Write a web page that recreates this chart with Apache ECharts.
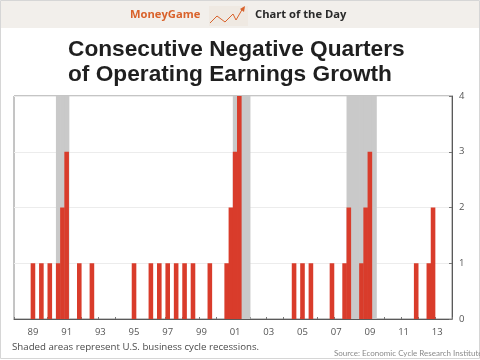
<!DOCTYPE html>
<html><head><meta charset="utf-8">
<style>html,body{margin:0;padding:0;background:#fff}#c{width:480px;height:360px}</style>
<script src="https://cdn.jsdelivr.net/npm/echarts@6/dist/echarts.min.js"></script>
</head><body><div id="c"></div>
<script>
const quarters = ("88Q1 88Q2 88Q3 88Q4 89Q1 89Q2 89Q3 89Q4 90Q1 90Q2 90Q3 90Q4 91Q1 91Q2 91Q3 91Q4 "+
"92Q1 92Q2 92Q3 92Q4 93Q1 93Q2 93Q3 93Q4 94Q1 94Q2 94Q3 94Q4 95Q1 95Q2 95Q3 95Q4 "+
"96Q1 96Q2 96Q3 96Q4 97Q1 97Q2 97Q3 97Q4 98Q1 98Q2 98Q3 98Q4 99Q1 99Q2 99Q3 99Q4 "+
"00Q1 00Q2 00Q3 00Q4 01Q1 01Q2 01Q3 01Q4 02Q1 02Q2 02Q3 02Q4 03Q1 03Q2 03Q3 03Q4 "+
"04Q1 04Q2 04Q3 04Q4 05Q1 05Q2 05Q3 05Q4 06Q1 06Q2 06Q3 06Q4 07Q1 07Q2 07Q3 07Q4 "+
"08Q1 08Q2 08Q3 08Q4 09Q1 09Q2 09Q3 09Q4 10Q1 10Q2 10Q3 10Q4 11Q1 11Q2 11Q3 11Q4 "+
"12Q1 12Q2 12Q3 12Q4 13Q1 13Q2 13Q3 13Q4").split(" ");
const negativeQuarters = [
0,0,0,0,1,0,1,0, 1,0,1,2,3,0,0,1,
0,0,1,0,0,0,0,0, 0,0,0,0,1,0,0,0,
1,0,1,0,1,0,1,0, 1,0,1,0,0,0,1,0,
0,0,1,2,3,4,0,0, 0,0,0,0,0,0,0,0,
0,0,1,0,1,0,1,0, 0,0,0,1,0,0,1,2,
0,0,1,2,3,0,0,0, 0,0,0,0,0,0,0,1,
0,0,1,2,0,0,0,0];
const recessionQuarters = ["90Q3","90Q4","91Q1","01Q1","01Q2","01Q3","01Q4","07Q4","08Q1","08Q2","08Q3","08Q4","09Q1","09Q2"];
const recessionLevel = 4;
const yTicks = [0,1,2,3,4];
const titleText = "Consecutive Negative Quarters\nof Operating Earnings Growth";
const noteText = "Shaded areas represent U.S. business cycle recessions.";
const sourceText = "Source: Economic Cycle Research Institute";

const chart = echarts.init(document.getElementById('c'), null, {renderer:'canvas'});
chart.setOption({
  animation:false,
  backgroundColor:'#fff',
  title:{
    text:titleText, left:63, top:32,
    textStyle:{fontFamily:'Liberation Sans',fontWeight:'bold',fontSize:22.7,lineHeight:25,color:'#1f1f1f'}
  },
  grid:{left:14,right:28,top:96,bottom:41,show:true,borderColor:'#8a8a8a',borderWidth:1,backgroundColor:'transparent'},
  xAxis:{
    type:'category',data:quarters,boundaryGap:true,
    axisLine:{show:true,lineStyle:{color:'#5a5a5a',width:1}},
    axisTick:{show:true,inside:true,length:2,interval:i=>i%4===0,lineStyle:{color:'#777'}},
    axisLabel:{interval:i=>i%8===4,formatter:v=>v.slice(0,2),color:'#555',fontFamily:'Open Sans',fontSize:9.5,margin:8,hideOverlap:false}
  },
  yAxis:{
    type:'value',min:yTicks[0],max:yTicks[yTicks.length-1],interval:1,position:'right',
    axisLine:{show:true,lineStyle:{color:'#5a5a5a',width:1}},
    axisTick:{show:true,inside:true,length:3,lineStyle:{color:'#777'}},
    axisLabel:{color:'#555',fontFamily:'Open Sans',fontSize:9.5,margin:7},
    splitLine:{show:true,lineStyle:{color:'#ececec',width:1}}
  },
  series:[
    {type:'bar',name:'Recession',data:quarters.map(q=>recessionQuarters.includes(q)?recessionLevel:0),
     barWidth:5,barGap:'-100%',itemStyle:{color:'#c9c9c9'},z:2,silent:true},
    {type:'bar',name:'Negative quarters',data:negativeQuarters,
     barWidth:4.6,barGap:'-100%',itemStyle:{color:'#d93c2b'},z:3}
  ],
  graphic:[
    {type:'rect',z:0,shape:{x:1,y:1,width:478,height:27},style:{fill:'#f2efeb'}},
    {type:'rect',z:0,shape:{x:0.5,y:0.5,width:479,height:358},style:{fill:'none',stroke:'#d6d6d6',lineWidth:1}},
    {type:'text',z:5,style:{x:130,y:15,text:'MoneyGame',fill:'#d9622b',font:'bold 11.2px "Open Sans"',textVerticalAlign:'middle'}},
    {type:'text',z:5,style:{x:255,y:15,text:'Chart of the Day',fill:'#2a2a2a',font:'bold 11.2px "Open Sans"',textVerticalAlign:'middle'}},
    {type:'rect',z:4,shape:{x:209,y:6,width:39,height:20},style:{fill:'#efe9e2'}},
    {type:'polyline',z:5,shape:{points:[[210,23],[217,16],[225,22],[233,14],[236,20],[243,8]]},style:{fill:'none',stroke:'#d9622b',lineWidth:1}},
    {type:'polygon',z:5,shape:{points:[[240,9],[245,6],[244,12]]},style:{fill:'#d9622b'}},
    {type:'text',z:5,style:{x:12,y:347,text:noteText,fill:'#4a4a4a',font:'9.7px "Open Sans"',textVerticalAlign:'middle'}},
    {type:'text',z:5,style:{x:334,y:353,text:sourceText,fill:'#8a8a8a',font:'8px "Lato"',textVerticalAlign:'middle'}}
  ]
});
</script></body></html>
